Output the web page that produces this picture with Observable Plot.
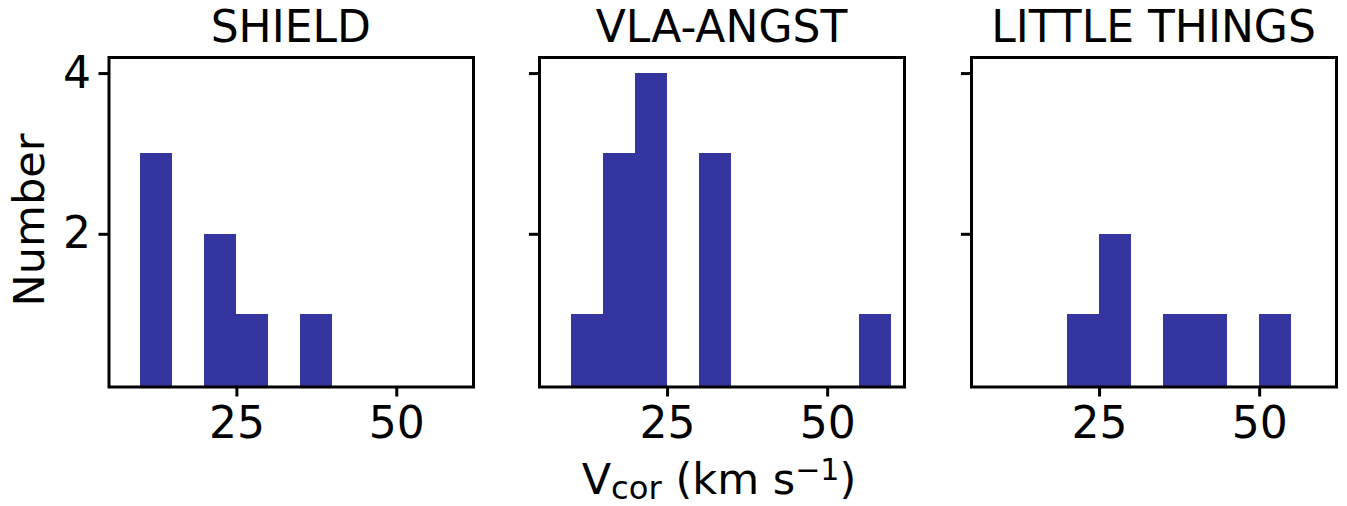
<!DOCTYPE html>
<html><head><meta charset="utf-8">
<script src="https://cdn.jsdelivr.net/npm/d3@7"></script>
<script src="https://cdn.jsdelivr.net/npm/@observablehq/plot@0.6"></script>
<style>
body{margin:0;background:#fff;}
#wrap{position:relative;width:1347px;height:506px;font-family:"DejaVu Sans",sans-serif;color:#000;background:#fff}
#wrap svg{position:absolute;left:0;top:0}
.t{position:absolute;font-size:44px;line-height:1;white-space:nowrap;transform:translateX(-50%)}
.xl{font-size:43px}
.ylab{position:absolute;font-size:43px;line-height:1;white-space:nowrap;transform:translate(-50%,-50%) rotate(-90deg)}
.sub{font-size:75%;position:relative;top:0.18em;line-height:0.5}
.sup{font-size:70%;position:relative;top:-0.45em;line-height:0.5}
</style>
</head><body>
<div id="wrap"></div>
<script>
// ---- data ----
const surveys = ["SHIELD", "VLA-ANGST", "LITTLE THINGS"];
const binEdges = [10, 15, 20, 25, 30, 35, 40, 45, 50, 55, 60];
const shieldCounts = [3, 0, 2, 1, 0, 1, 0, 0, 0, 0];
const vlaAngstCounts = [1, 3, 4, 0, 3, 0, 0, 0, 0, 1];
const littleThingsCounts = [0, 0, 1, 2, 0, 1, 1, 0, 1, 0];
const xTicks = [25, 50];
const yTicks = [2, 4];
const xDomain = [5, 62];
const yDomain = [0.1, 4.2];
const yLabel = "Number";

const countsBySurvey = [shieldCounts, vlaAngstCounts, littleThingsCounts];
const panelEdges = [[108.5, 473], [539, 904], [971, 1336]];
const W = 1347, H = 506, TOP = 57, BOTTOM = 386.5;
const barColor = "#3535a0";

const wrap = document.getElementById("wrap");

surveys.forEach((name, k) => {
  const counts = countsBySurvey[k];
  const bars = counts.map((c, i) => ({x1: binEdges[i], x2: binEdges[i + 1], n: c})).filter(d => d.n > 0);
  const [L, R] = panelEdges[k];
  const chart = Plot.plot({
    width: W, height: H,
    marginLeft: L, marginRight: W - R, marginTop: TOP, marginBottom: H - BOTTOM,
    style: {background: "transparent", fontFamily: "DejaVu Sans", fontSize: "44px", color: "#000"},
    x: {domain: xDomain, axis: null},
    y: {domain: yDomain, axis: null, clamp: true},
    marks: [
      Plot.rectY(bars, {x1: "x1", x2: "x2", y1: 0, y2: "n", fill: barColor, clip: true, shapeRendering: "crispEdges"}),
      Plot.axisX({ticks: xTicks, tickSize: 10, tickPadding: 10, strokeWidth: 3, label: null, tickFormat: d => String(d)}),
      Plot.axisY({ticks: yTicks, tickSize: 10, tickPadding: 8, strokeWidth: 3, label: null,
                  tickFormat: k === 0 ? (d => String(d)) : (() => "")}),
      Plot.frame({stroke: "#000", strokeWidth: 3})
    ]
  });
  wrap.appendChild(chart);
  const t = document.createElement("div");
  t.className = "t";
  t.textContent = name;
  t.style.left = ((L + R) / 2) + "px";
  t.style.top = "4.5px";
  wrap.appendChild(t);
});

const yl = document.createElement("div");
yl.className = "ylab";
yl.textContent = yLabel;
yl.style.left = "29px";
yl.style.top = "220px";
wrap.appendChild(yl);

const xl = document.createElement("div");
xl.className = "t xl";
xl.innerHTML = 'V<span class="sub">cor</span> (km s<span class="sup">\u22121</span>)';
xl.style.left = "719px";
xl.style.top = "457.5px";
wrap.appendChild(xl);
</script>
</body></html>
